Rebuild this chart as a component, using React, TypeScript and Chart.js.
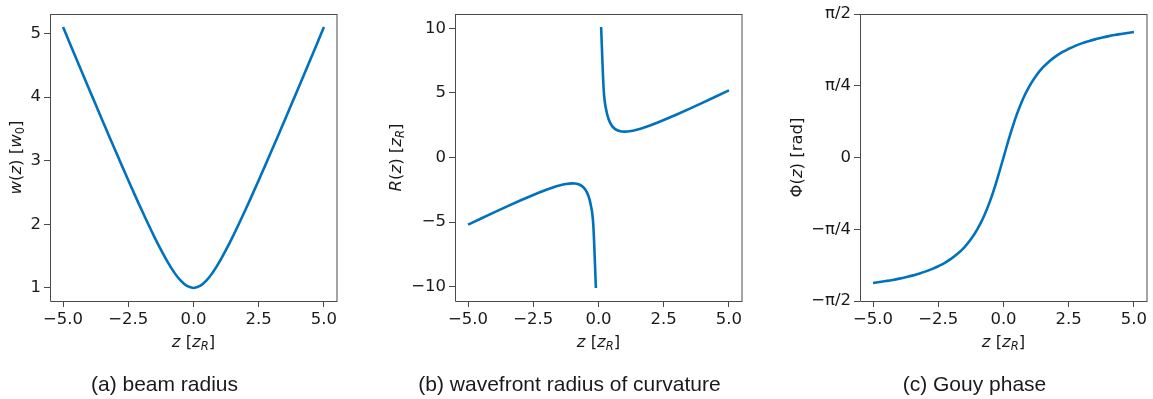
import React, { useEffect, useRef } from 'react';
import { Chart, registerables } from 'chart.js';

Chart.register(...registerables);

// ---------- data ----------
const zA = [-5, -4.75, -4.5, -4.25, -4, -3.75, -3.5, -3.25, -3, -2.75, -2.5, -2.25, -2, -1.75, -1.5, -1.25, -1, -0.75, -0.5, -0.25, 0,
  0.25, 0.5, 0.75, 1, 1.25, 1.5, 1.75, 2, 2.25, 2.5, 2.75, 3, 3.25, 3.5, 3.75, 4, 4.25, 4.5, 4.75, 5];
const wA = [5.099, 4.854, 4.610, 4.366, 4.123, 3.881, 3.640, 3.400, 3.162, 2.926, 2.693, 2.462, 2.236, 2.016, 1.803, 1.601, 1.414, 1.250, 1.118, 1.031, 1.000,
  1.031, 1.118, 1.250, 1.414, 1.601, 1.803, 2.016, 2.236, 2.462, 2.693, 2.926, 3.162, 3.400, 3.640, 3.881, 4.123, 4.366, 4.610, 4.854, 5.099];

const zB = [-5, -4.5, -4, -3.5, -3, -2.75, -2.5, -2.25, -2, -1.75, -1.5, -1.25, -1, -0.9, -0.8, -0.7, -0.6, -0.5, -0.4, -0.3, -0.2, -0.1, 0,
  0.1, 0.2, 0.3, 0.4, 0.5, 0.6, 0.7, 0.8, 0.9, 1, 1.25, 1.5, 1.75, 2, 2.25, 2.5, 2.75, 3, 3.5, 4, 4.5, 5];
const rB = [-5.2, -4.722, -4.25, -3.786, -3.333, -3.114, -2.9, -2.694, -2.5, -2.321, -2.167, -2.05, -2.0, -2.011, -2.05, -2.129, -2.267, -2.5, -2.9, -3.633, -5.2, -10.1, null,
  10.1, 5.2, 3.633, 2.9, 2.5, 2.267, 2.129, 2.05, 2.011, 2.0, 2.05, 2.167, 2.321, 2.5, 2.694, 2.9, 3.114, 3.333, 3.786, 4.25, 4.722, 5.2];

const zC = [-5, -4.75, -4.5, -4.25, -4, -3.75, -3.5, -3.25, -3, -2.75, -2.5, -2.25, -2, -1.75, -1.5, -1.25, -1, -0.75, -0.5, -0.25, 0,
  0.25, 0.5, 0.75, 1, 1.25, 1.5, 1.75, 2, 2.25, 2.5, 2.75, 3, 3.25, 3.5, 3.75, 4, 4.25, 4.5, 4.75, 5];
const phiC = [-1.373, -1.363, -1.352, -1.340, -1.326, -1.310, -1.293, -1.272, -1.249, -1.222, -1.190, -1.153, -1.107, -1.052, -0.983, -0.896, -0.785, -0.644, -0.464, -0.245, 0,
  0.245, 0.464, 0.644, 0.785, 0.896, 0.983, 1.052, 1.107, 1.153, 1.190, 1.222, 1.249, 1.272, 1.293, 1.310, 1.326, 1.340, 1.352, 1.363, 1.373];

// ---------- tick labels ----------
const xTickValues = [-5, -2.5, 0, 2.5, 5];
const xTickLabels = ['\u22125.0', '\u22122.5', '0.0', '2.5', '5.0'];
const aTickValues = [1, 2, 3, 4, 5];
const aTickLabels = ['1', '2', '3', '4', '5'];
const bTickValues = [-10, -5, 0, 5, 10];
const bTickLabels = ['\u221210', '\u22125', '0', '5', '10'];
const cTickValues = [-Math.PI / 2, -Math.PI / 4, 0, Math.PI / 4, Math.PI / 2];
const cTickLabels = ['\u2212\u03c0/2', '\u2212\u03c0/4', '0', '\u03c0/4', '\u03c0/2'];

const captions = ['(a) beam radius', '(b) wavefront radius of curvature', '(c) Gouy phase'];

// ---------- style ----------
const BLUE = '#0072BD';
const SPINE = '#4a4a4a';
const TEXT = '#1a1a1a';
const FONT = 'DejaVu Sans';
const FS = 16.5;

type Seg = { t: string; i?: boolean; sub?: boolean };
const xTitle: Seg[] = [{ t: 'z', i: true }, { t: ' [' }, { t: 'z', i: true }, { t: 'R', i: true, sub: true }, { t: ']' }];
const yTitleA: Seg[] = [{ t: 'w', i: true }, { t: '(' }, { t: 'z', i: true }, { t: ') [' }, { t: 'w', i: true }, { t: '0', sub: true }, { t: ']' }];
const yTitleB: Seg[] = [{ t: 'R', i: true }, { t: '(' }, { t: 'z', i: true }, { t: ') [' }, { t: 'z', i: true }, { t: 'R', i: true, sub: true }, { t: ']' }];
const yTitleC: Seg[] = [{ t: '\u03a6' }, { t: '(' }, { t: 'z', i: true }, { t: ') [rad]' }];

function drawRich(ctx: CanvasRenderingContext2D, segs: Seg[], x: number, y: number, rotate: boolean) {
  const fontFor = (s: Seg) => `${s.i ? 'italic ' : ''}${s.sub ? FS * 0.7 : FS}px "${FONT}"`;
  let total = 0;
  const widths = segs.map((s) => {
    ctx.font = fontFor(s);
    const w = ctx.measureText(s.t).width;
    total += w;
    return w;
  });
  ctx.save();
  ctx.translate(x, y);
  if (rotate) ctx.rotate(-Math.PI / 2);
  ctx.textBaseline = 'alphabetic';
  ctx.textAlign = 'left';
  ctx.fillStyle = TEXT;
  let cx = -total / 2;
  segs.forEach((s, k) => {
    ctx.font = fontFor(s);
    ctx.fillText(s.t, cx, s.sub ? FS * 0.16 : 0);
    cx += widths[k];
  });
  ctx.restore();
}

const decor = {
  id: 'decor',
  afterDraw(chart: any, _args: any, opts: any) {
    const { ctx, chartArea } = chart;
    const { left, top, right, bottom } = chartArea;
    ctx.save();
    ctx.strokeStyle = SPINE;
    ctx.lineWidth = 1;
    ctx.beginPath();
    ctx.moveTo(left + 0.5, top + 0.5);
    ctx.lineTo(right, top + 0.5);
    ctx.moveTo(right, top);
    ctx.lineTo(right, bottom + 1);
    ctx.moveTo(right, bottom + 0.5);
    ctx.lineTo(left + 0.5, bottom + 0.5);
    ctx.lineTo(left + 0.5, top);
    ctx.stroke();
    ctx.restore();
    drawRich(ctx, opts.xTitle, (left + right) / 2, opts.xTitleY, false);
    drawRich(ctx, opts.yTitle, opts.yTitleX, (top + bottom) / 2, true);
  },
};

type PanelProps = {
  left: number;
  width: number;
  yWidth: number;
  xs: number[];
  ys: (number | null)[];
  yMin: number;
  yMax: number;
  yTicks: number[];
  yLabels: string[];
  yTitle: Seg[];
  yTitleX: number;
  caption: string;
  monotone: boolean;
};

function Panel(p: PanelProps) {
  const ref = useRef<HTMLCanvasElement>(null);
  useEffect(() => {
    const tickFont = { family: FONT, size: FS };
    const chart = new Chart(ref.current!, {
      type: 'line',
      data: {
        datasets: [
          {
            data: p.xs.map((x, i) => ({ x, y: p.ys[i] })) as any,
            borderColor: BLUE,
            borderWidth: 2.6,
            pointRadius: 0,
            cubicInterpolationMode: p.monotone ? 'monotone' : 'default',
            tension: p.monotone ? 0 : 0.4,
            spanGaps: false,
            fill: false,
          },
        ],
      },
      options: {
        animation: false,
        responsive: false,
        events: [],
        layout: { padding: { left: 0, right: 6, top: 14, bottom: 0 } },
        plugins: {
          legend: { display: false },
          tooltip: { enabled: false },
          decor: { xTitle, xTitleY: 347, yTitle: p.yTitle, yTitleX: p.yTitleX },
        } as any,
        scales: {
          x: {
            type: 'linear',
            min: -5.5,
            max: 5.5,
            afterBuildTicks: (s: any) => {
              s.ticks = xTickValues.map((v) => ({ value: v }));
            },
            afterFit: (s: any) => {
              s.height = 98;
            },
            ticks: {
              callback: (v: any) => xTickLabels[xTickValues.indexOf(v)] ?? '',
              font: tickFont,
              color: TEXT,
              padding: 3,
              maxRotation: 0,
              autoSkip: false,
            },
            grid: { drawOnChartArea: false, drawTicks: true, tickLength: 6, color: SPINE, lineWidth: 1 },
            border: { display: false },
          },
          y: {
            type: 'linear',
            min: p.yMin,
            max: p.yMax,
            afterBuildTicks: (s: any) => {
              s.ticks = p.yTicks.map((v) => ({ value: v }));
            },
            afterFit: (s: any) => {
              s.width = p.yWidth;
            },
            ticks: {
              callback: (v: any) => p.yLabels[p.yTicks.indexOf(v)] ?? '',
              font: tickFont,
              color: TEXT,
              padding: 3,
              autoSkip: false,
            },
            grid: { drawOnChartArea: false, drawTicks: true, tickLength: 6, color: SPINE, lineWidth: 1 },
            border: { display: false },
          },
        },
      } as any,
      plugins: [decor as any],
    });
    return () => chart.destroy();
  }, []);
  return (
    <>
      <canvas
        ref={ref}
        width={p.width}
        height={399}
        style={{ position: 'absolute', left: p.left, top: 0, width: p.width, height: 399 }}
      />
      <div
        style={{
          position: 'absolute',
          left: p.left + p.yWidth + 114.5 - 200,
          width: 400,
          top: 373,
          textAlign: 'center',
          fontFamily: '"Liberation Sans", Arial, sans-serif',
          fontSize: 21,
          lineHeight: '21px',
          color: TEXT,
          whiteSpace: 'nowrap',
        }}
      >
        {p.caption}
      </div>
    </>
  );
}

export default function App() {
  return (
    <div style={{ position: 'fixed', left: 0, top: 0, width: 1153, height: 399, background: '#fff', overflow: 'hidden' }}>
      <Panel left={0} width={343} yWidth={50} xs={zA} ys={wA} yMin={0.795} yMax={5.304} monotone={false}
        yTicks={aTickValues} yLabels={aTickLabels} yTitle={yTitleA} yTitleX={21} caption={captions[0]} />
      <Panel left={380} width={368} yWidth={75} xs={zB} ys={rB} yMin={-11.11} yMax={11.11} monotone={true}
        yTicks={bTickValues} yLabels={bTickLabels} yTitle={yTitleB} yTitleX={21} caption={captions[1]} />
      <Panel left={785} width={368} yWidth={75} xs={zC} ys={phiC} yMin={-Math.PI / 2} yMax={Math.PI / 2} monotone={false}
        yTicks={cTickValues} yLabels={cTickLabels} yTitle={yTitleC} yTitleX={17} caption={captions[2]} />
    </div>
  );
}
